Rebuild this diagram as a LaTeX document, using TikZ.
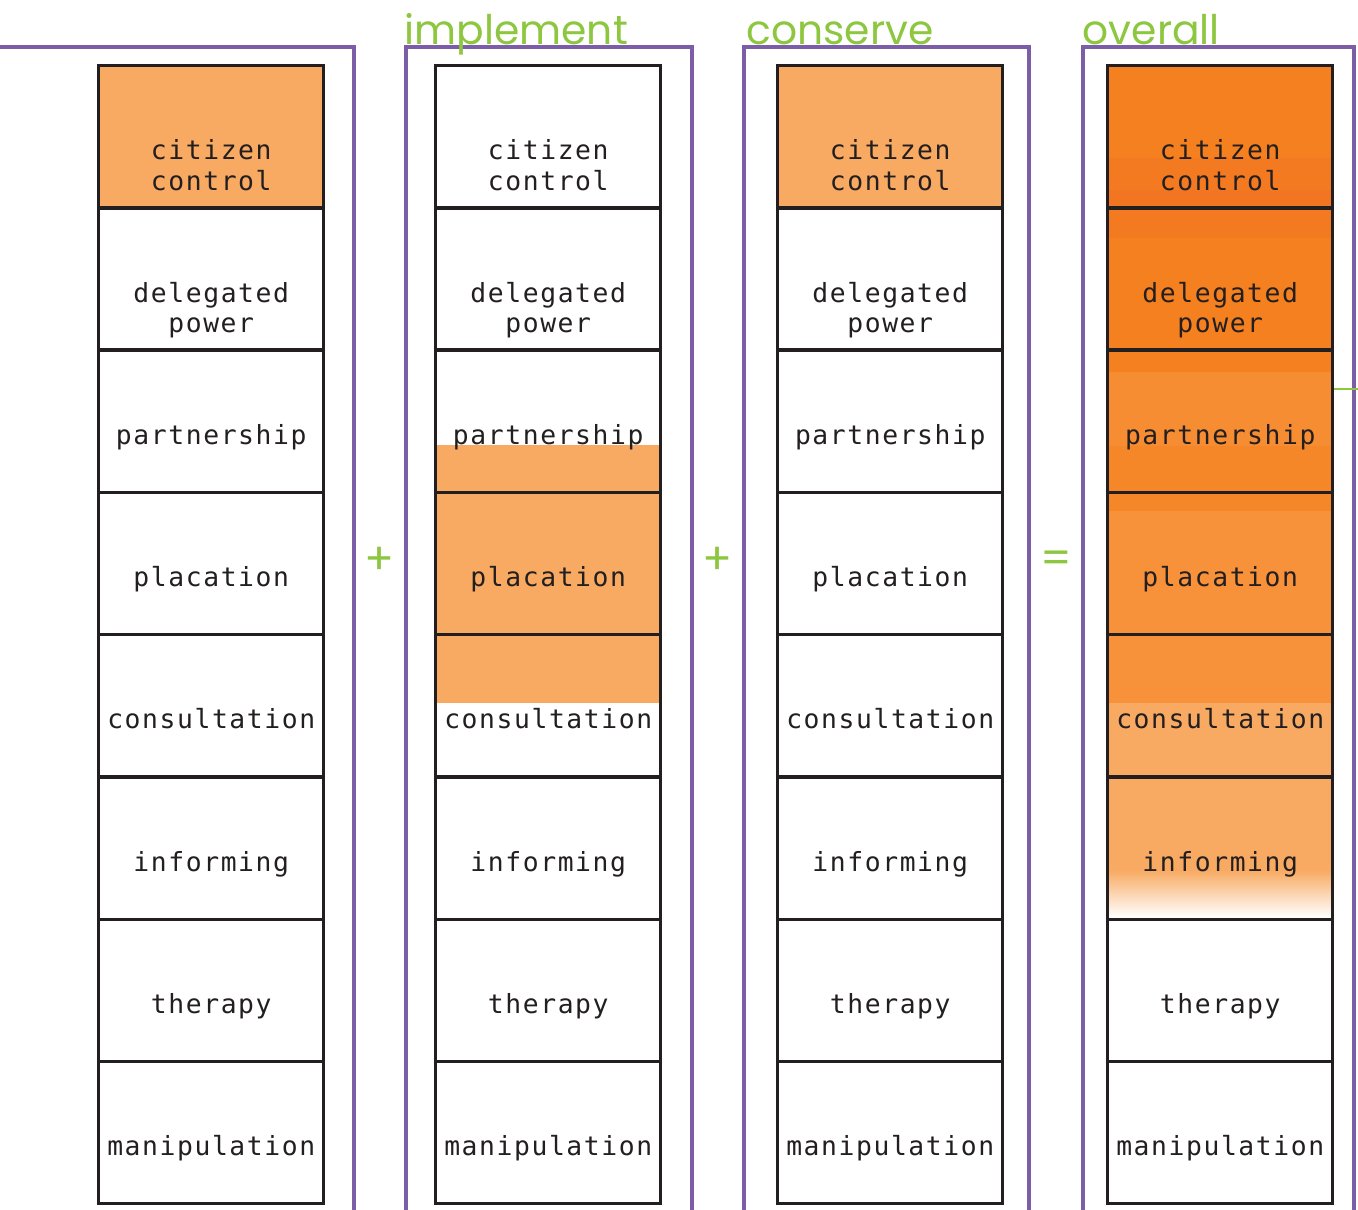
\documentclass[tikz,border=0pt]{standalone}
\usepackage{fontspec}
\usepackage{xcolor}
\usepackage{tikz}
\usetikzlibrary{positioning}
\newfontfamily\rungfont[LetterSpace=6]{DejaVu Sans Mono}
\newfontfamily\titlefont{Poppins}
\definecolor{arInk}{HTML}{231F20}
\definecolor{arFrame}{HTML}{7B5EA7}
\definecolor{arGreen}{HTML}{8DC63F}
\definecolor{arLight}{HTML}{F8AA62}
\definecolor{arOrA}{HTML}{F4801F}
\definecolor{arOrB}{HTML}{F37A20}
\definecolor{arOrC}{HTML}{F27521}
\definecolor{arOrD}{HTML}{F68D32}
\definecolor{arOrE}{HTML}{F58729}
\definecolor{arOrF}{HTML}{F7913A}
\tikzset{
  ar frame/.style={draw=arFrame, line width=1pt},
  ar cell/.style={draw=arInk, line width=0.95pt, anchor=north west,
    minimum width=2.25cm, minimum height=1.4225cm, inner sep=0pt},
  ar label/.style={font=\rungfont\fontsize{7.5}{8.6}\selectfont,
    text=arInk, anchor=base, inner sep=0pt},
  ar title/.style={font=\titlefont\fontsize{11.6}{14}\selectfont,
    text=arGreen, anchor=base west, inner sep=0pt},
  ar op/.style={font=\titlefont\fontsize{12.5}{14}\selectfont,
    text=arGreen, inner sep=0pt},
  ar link/.style={draw=arGreen, line width=0.8pt}
}
\begin{document}
\begin{tikzpicture}[x=0.01cm, y=-0.01cm]
\useasboundingbox (0,0) rectangle (1358,1210);

% open frames round the four ladders
\draw[ar frame] (0,47) -- (354,47) -- (354,1215);
\draw[ar frame] (406,1215) -- (406,47) -- (692,47) -- (692,1215);
\draw[ar frame] (744,1215) -- (744,47) -- (1029,47) -- (1029,1215);
\draw[ar frame] (1083,1215) -- (1083,47) -- (1354,47) -- (1354,1215);

\node[ar title] (tImplement) at (404,45) {implement};
\node[ar title] (tConserve) at (746,45) {conserve};
\node[ar title] (tOverall) at (1082,45) {overall};

% shaded rungs
\fill[arLight] (97,64) rectangle (323,206.25);
\fill[arLight] (434,445) rectangle (660,703);
\fill[arLight] (776,64) rectangle (1002,206.25);
\fill[arOrA] (1106,64) rectangle (1332,158);
\fill[arOrB] (1106,158) rectangle (1332,190);
\fill[arOrC] (1106,190) rectangle (1332,206.25);
\fill[arOrB] (1106,206.25) rectangle (1332,238);
\fill[arOrA] (1106,238) rectangle (1332,372);
\fill[arOrD] (1106,372) rectangle (1332,446);
\fill[arOrE] (1106,446) rectangle (1332,511);
\fill[arOrF] (1106,511) rectangle (1332,703);
\fill[arLight] (1106,703) rectangle (1332,870);
\shade[top color=arLight, bottom color=white] (1106,870) rectangle (1332,917.5);

% the eight rungs of each ladder
\foreach \x/\c in {97/a, 434/b, 776/c, 1106/d}
  \foreach [count=\i] \t in {{citizen\\control}, {delegated\\power},
      partnership, placation, consultation, informing, therapy, manipulation} {
    \node[ar cell] (\c\i) at (\x,{64+(\i-1)*142.25}) {};
    \node[ar label] (\c\i t) at ([yshift=-0.23cm]\c\i.center)
      {\begin{tabular}[t]{@{}c@{}}\t\end{tabular}};
  }

\node[ar op] (plusA) at (380,561) {+};
\node[ar op] (plusB) at (718,561) {+};
\node[ar op] (equals) at (1056,562) {=};

\coordinate (exitR) at (1358,389);
\draw[ar link] (d3.east |- exitR) -- (exitR);
\end{tikzpicture}
\end{document}
